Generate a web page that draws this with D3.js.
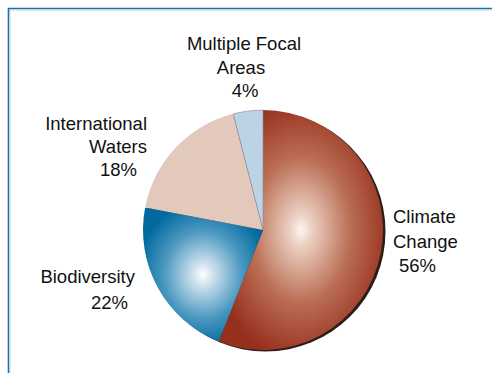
<!DOCTYPE html>
<html>
<head>
<meta charset="utf-8">
<script src="https://cdn.jsdelivr.net/npm/d3@7"></script>
<style>
  body { margin: 0; background: #fff; }
  svg { display: block; font-family: "Liberation Sans", Arial, sans-serif; }
</style>
</head>
<body>
<svg id="chart" width="492" height="373"></svg>
<script>
/*** Data ***/
const categories = ["Climate Change", "Biodiversity", "International Waters", "Multiple Focal Areas"]
const shares     = [56, 22, 18, 4]
const labelLines = [
  ["Climate", "Change", "56%"],
  ["Biodiversity", "22%"],
  ["International", "Waters", "18%"],
  ["Multiple Focal", "Areas", "4%"]
]

/*** Layout ***/
const W = 492, H = 373
const CX = 263, CY = 230, R = 120
// [x, anchor] per line, first baseline, line step
const labelPos = [
  {lines: [[393, "start"], [393, "start"], [399, "start"]], y: 223, dy: 24.5},
  {lines: [[135, "end"], [128, "end"]], y: 283, dy: 26},
  {lines: [[147, "end"], [147, "end"], [137, "end"]], y: 130, dy: 23},
  {lines: [[244, "middle"], [241, "middle"], [245, "middle"]], y: 50, dy: 23.5}
]
const fills = [
  {type: "radial", stops: [[0, "#fdf6f2"], [0.12, "#ecd0c2"], [0.55, "#ba6e54"], [1, "#972f1d"]]},
  {type: "radial", stops: [[0, "#ffffff"], [0.15, "#cfe2ee"], [0.6, "#4a97c0"], [1, "#006a9e"]]},
  {type: "flat", color: "#e3c9bc"},
  {type: "flat", color: "#bcd2e5"}
]

const svg = d3.select("#chart")
const defs = svg.append("defs")

fills.forEach((f, i) => {
  if (f.type != "radial") return
  const g = defs.append("radialGradient").attr("id", "grad" + i)
    .attr("cx", "50%").attr("cy", "50%").attr("r", "55%")
  f.stops.forEach(s => g.append("stop").attr("offset", s[0]).attr("stop-color", s[1]))
})

// frame
svg.append("path")
  .attr("d", `M8.5,${H} V8.5 H${W}`)
  .attr("fill", "none").attr("stroke", "#1f6f9f").attr("stroke-width", 1.6)
svg.append("path")
  .attr("d", `M10,${H} V10 H${W}`)
  .attr("fill", "none").attr("stroke", "#b4d6ea").attr("stroke-width", 1)

const pie = d3.pie().sort(null).value(d => d)
const arcs = pie(shares)
const arc = d3.arc().innerRadius(0).outerRadius(R)

const g = svg.append("g").attr("transform", `translate(${CX},${CY})`)

// shadow
g.append("circle")
  .attr("cx", 2.5).attr("cy", 1.5).attr("r", R)
  .attr("fill", "#2b1d18")

g.selectAll("path.slice")
  .data(arcs)
  .enter()
  .append("path")
  .attr("class", "slice")
  .attr("d", arc)
  .attr("fill", (d, i) => fills[i].type == "radial" ? `url(#grad${i})` : fills[i].color)
  .attr("stroke", (d, i) => i == 3 ? "#8a8f95" : "none")
  .attr("stroke-width", 0.6)

// labels
labelPos.forEach((p, i) => {
  const t = svg.append("text").attr("font-size", 18.5).attr("fill", "#111")
  labelLines[i].forEach((line, j) => {
    t.append("tspan")
      .attr("x", p.lines[j][0])
      .attr("y", p.y + j * p.dy)
      .attr("text-anchor", p.lines[j][1])
      .text(line)
  })
})
</script>
</body>
</html>
